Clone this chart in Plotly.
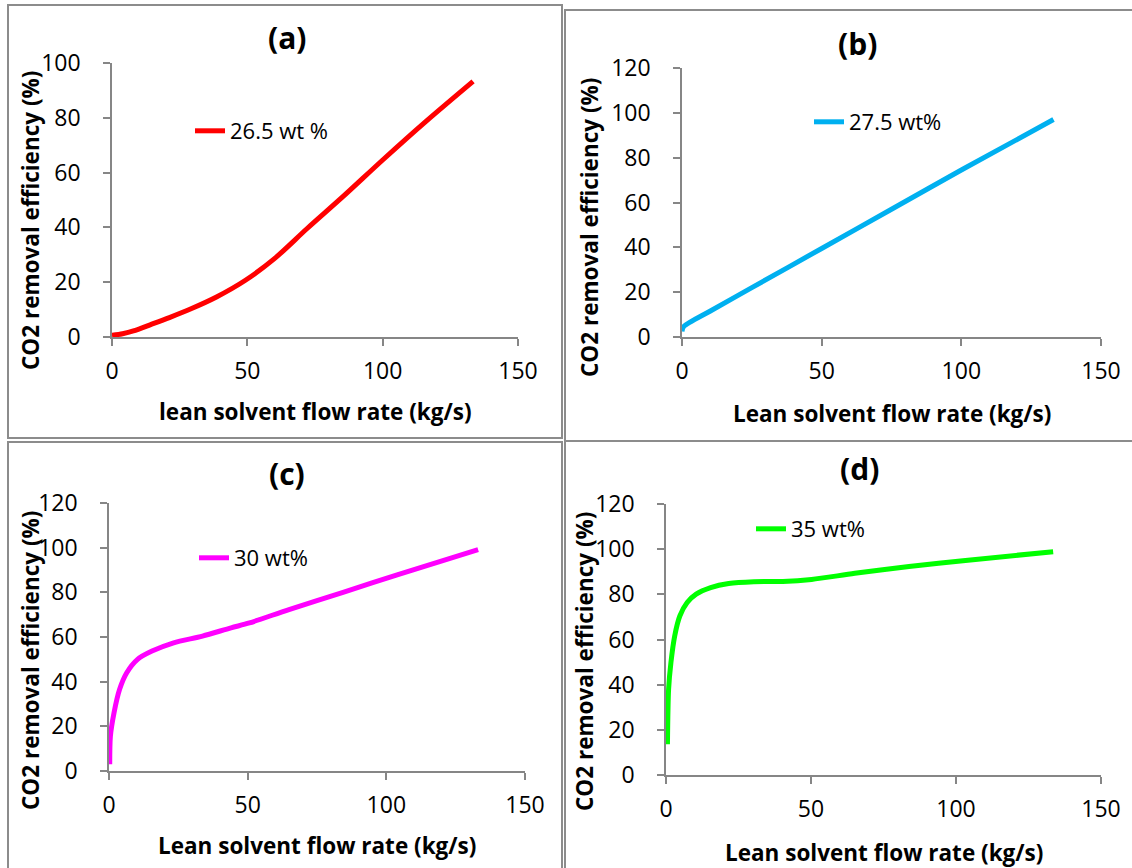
import plotly.graph_objects as go

# ---------------- data ----------------
flow_a = [0, 3.9, 7.9, 14.5, 21.2, 29.2, 38.6, 49.3, 59.9, 72.0, 85.3, 100.0, 116.0, 133.4]
eff_a = [0.6, 1.2, 2.2, 4.6, 7.1, 10.3, 14.6, 20.7, 28.5, 39.5, 51.2, 64.6, 78.7, 93.3]

flow_b = [0, 0.5, 10, 25, 50, 75, 100, 133]
eff_b = [2.5, 4.5, 11.5, 22.0, 39.5, 57.0, 74.5, 97.0]

flow_c = [0.26, 0.5, 1.8, 3.8, 6.4, 10.3, 15.5, 23.3, 33.7, 44.0, 50.6, 64.9, 84.4, 103.9, 133.1]
eff_c = [3.0, 15.6, 26.0, 36.5, 44.0, 50.0, 53.7, 57.4, 60.4, 64.1, 66.3, 72.3, 80.0, 87.8, 99.1]

flow_d = [0.5, 0.9, 1.7, 3.0, 4.8, 7.3, 10.4, 15.4, 21.6, 30.3, 40.3, 50.2, 65.1, 83.8, 102.4, 133.5]
eff_d = [13.6, 38.0, 49.8, 61.6, 70.5, 76.4, 80.1, 83.0, 84.8, 85.6, 85.7, 86.6, 89.3, 92.3, 94.9, 98.9]

series_names = ["26.5 wt %", "27.5 wt%", "30 wt%", "35 wt%"]
panel_titles = ["(a)", "(b)", "(c)", "(d)"]
x_titles = ["lean solvent flow rate (kg/s)", "Lean solvent flow rate (kg/s)",
            "Lean solvent flow rate (kg/s)", "Lean solvent flow rate (kg/s)"]
y_title = "CO2 removal efficiency (%)"
y_max = [100, 120, 120, 120]
x_ticks = [0, 50, 100, 150]

# ---------------- layout helpers ----------------
W, H = 1132, 868
def px(x):
    return x / W
def py(y):
    return 1 - y / H

colors = ["#FF0000", "#00B0F0", "#FF00FF", "#00FF00"]
flows = [flow_a, flow_b, flow_c, flow_d]
effs = [eff_a, eff_b, eff_c, eff_d]

# plot areas in pixels: (x0, x150, yzero, ytop)
areas = [(112, 518, 337, 63), (682, 1101, 337, 68), (109, 525, 771, 503), (666, 1101, 775, 504)]
borders = [(8, 5, 562, 438), (565, 10, 1140, 441), (8, 442, 562, 880), (565, 441, 1140, 880)]
legend_pos = [(190, 131), (809, 122), (194, 558), (751, 529)]
title_pos = [(287, 37), (857, 43), (287, 473), (859, 469)]
xtitle_pos = [(315, 411), (892, 413), (317, 845), (884, 852)]
ytitle_pos = [(31, 221), (590, 228), (30, 661), (584, 662)]

FONT = "Open Sans"
fig = go.Figure()
annotations = []
shapes = []
layout = {}

for i in range(4):
    n = "" if i == 0 else str(i + 1)
    x0, x1, y0, y1 = areas[i]
    layout["xaxis" + n] = dict(
        domain=[px(x0), px(x1)], range=[0, 150], anchor="y" + n, automargin=False,
        tickvals=x_ticks, showline=True, linecolor="#868686", linewidth=1.5,
        ticks="outside", ticklen=7, tickcolor="#868686", tickwidth=1.5,
        showgrid=False, zeroline=False, ticklabelstandoff=6,
        tickfont=dict(family=FONT, size=23, color="#000000"),
    )
    layout["yaxis" + n] = dict(
        domain=[py(y0), py(y1)], range=[0, y_max[i]], anchor="x" + n, automargin=False,
        dtick=20, showline=True, linecolor="#868686", linewidth=1.5,
        ticks="outside", ticklen=7, tickcolor="#868686", tickwidth=1.5,
        showgrid=False, zeroline=False, ticklabelstandoff=18,
        tickfont=dict(family=FONT, size=23, color="#000000"),
    )
    lg = "legend" if i == 0 else "legend" + str(i + 1)
    lx, ly = legend_pos[i]
    layout[lg] = dict(
        x=px(lx), y=py(ly), xanchor="left", yanchor="middle",
        bgcolor="rgba(0,0,0,0)", borderwidth=0,
        font=dict(family=FONT, size=22, color="#000000"),
    )
    fig.add_trace(go.Scatter(
        x=flows[i], y=effs[i], mode="lines", name=series_names[i],
        line=dict(color=colors[i], width=5, shape="spline", smoothing=0.8),
        xaxis="x" + n, yaxis="y" + n, legend=lg, showlegend=True,
    ))
    tx, ty = title_pos[i]
    annotations.append(dict(text="<b>" + panel_titles[i] + "</b>", x=px(tx), y=py(ty),
                            xref="paper", yref="paper", showarrow=False,
                            xanchor="center", yanchor="middle",
                            font=dict(family=FONT, size=30, color="#000000")))
    ax, ay = xtitle_pos[i]
    annotations.append(dict(text="<b>" + x_titles[i] + "</b>", x=px(ax), y=py(ay),
                            xref="paper", yref="paper", showarrow=False,
                            xanchor="center", yanchor="middle",
                            font=dict(family=FONT, size=22.5, color="#000000")))
    yx, yy = ytitle_pos[i]
    annotations.append(dict(text="<b>" + y_title + "</b>", x=px(yx), y=py(yy),
                            xref="paper", yref="paper", showarrow=False, textangle=-90,
                            xanchor="center", yanchor="middle",
                            font=dict(family=FONT, size=22.5, color="#000000")))
    bx0, by0, bx1, by1 = borders[i]
    shapes.append(dict(type="rect", xref="paper", yref="paper",
                       x0=px(bx0), x1=px(bx1), y0=py(by1), y1=py(by0),
                       line=dict(color="#8C8C8C", width=2), fillcolor="rgba(0,0,0,0)",
                       layer="below"))

fig.update_layout(
    template="none",
    width=W, height=H, margin=dict(l=0, r=0, t=0, b=0, autoexpand=False),
    paper_bgcolor="#FFFFFF", plot_bgcolor="rgba(0,0,0,0)",
    annotations=annotations, shapes=shapes, **layout,
)

fig.write_html("out.html")
